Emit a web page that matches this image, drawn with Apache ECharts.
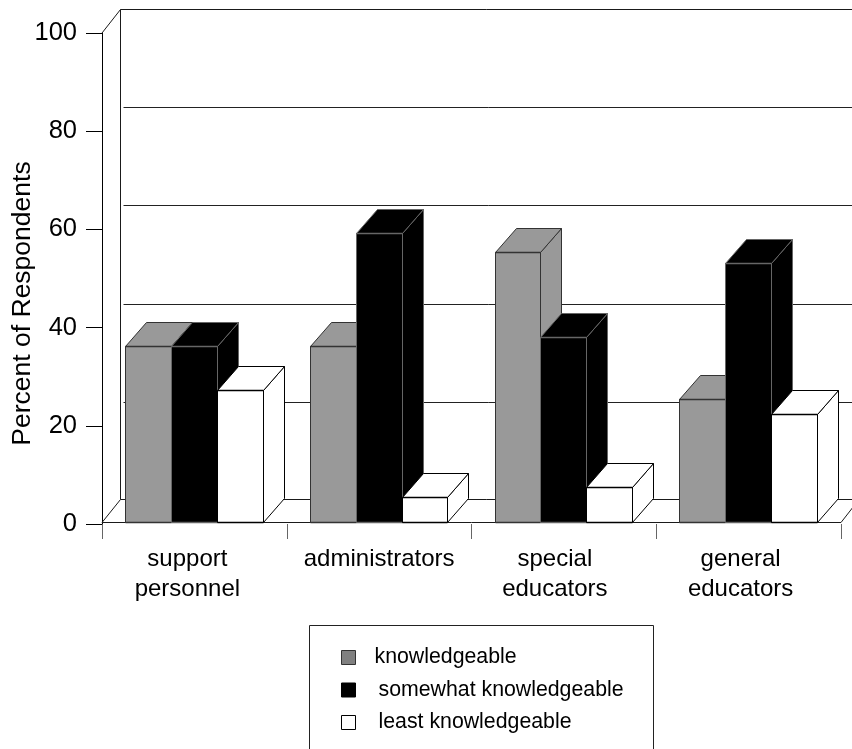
<!DOCTYPE html>
<html>
<head>
<meta charset="utf-8">
<style>html,body{margin:0;padding:0;background:#fff;overflow:hidden}#chart{width:852px;height:749px}</style>
<script src="https://cdn.jsdelivr.net/npm/echarts@6/dist/echarts.min.js"></script>
</head>
<body>
<div id="chart"></div>
<script>
// Survey data: share of respondents per knowledge level and staff group
const categories = ['support\npersonnel', 'administrators', 'special\neducators', 'general\neducators'];
const knowledgeable = [35.9, 35.9, 55, 25];
const somewhatKnowledgeable = [35.9, 58.8, 37.7, 52.8];
const leastKnowledgeable = [26.8, 5, 7.2, 22];
const wallValues = [20, 40, 60, 80];

const FONT = '"Liberation Sans", Arial, sans-serif';
const DEPTH_X = 21, DEPTH_Y = 24;   // oblique offset of the bar boxes
const WALL_X = 18, WALL_Y = 24;     // oblique offset of the back wall
const FLOOR_LIFT = 2;               // bars stand slightly above the axis zero tick
const LABEL_PAD = [14, 0, 18, 16];  // right padding pulls each category label left of its band centre
const snap = v => Math.round(v) + 0.5;

const line = (x1, y1, x2, y2, stroke, lineWidth) => ({
  type: 'line',
  shape: { x1, y1, x2, y2 },
  style: { stroke, lineWidth: lineWidth || 1, fill: null }
});
const poly = (points, fill, stroke) => ({
  type: 'polygon',
  shape: { points },
  style: { fill, stroke, lineWidth: 1 }
});

// Back wall, floor and wall gridlines of the oblique box
function renderFrame(params, api) {
  const cs = params.coordSys;
  const left = cs.x, right = cs.x + cs.width;
  const zero = api.coord([0, 0])[1];
  const base = snap(zero - FLOOR_LIFT);
  const top = api.coord([0, 100])[1];
  const wallX = snap(left + WALL_X);
  const wallTop = snap(top - WALL_Y);
  const floorBack = snap(base - WALL_Y);
  const edge = '#1a1a1a';
  const children = [
    line(wallX, wallTop, 900, wallTop, edge),
    line(wallX, wallTop, wallX, floorBack, edge),
    line(left, top, wallX, wallTop, edge),
    line(wallX, floorBack, 900, floorBack, edge),
    line(left, base, wallX, floorBack, edge),
    line(left, base, right, base, edge),
    line(right, base, right + WALL_X, floorBack, edge)
  ];
  wallValues.forEach(v => {
    const y = snap(api.coord([0, v])[1] - WALL_Y);
    children.push(line(wallX + 3, y, 900, y, '#222'));
  });
  return { type: 'group', children };
}

// One oblique box, sitting at its slot inside the category band
function barRenderer(slot, fill, stroke) {
  return function (params, api) {
    const cat = api.value(0);
    const val = api.value(1);
    const center = api.coord([cat, 0])[0] - 0.5;
    const w = api.size([1, 0])[0] * 0.248;
    const x0 = snap(center + (slot - 1.5) * w);
    const x1 = snap(center + (slot - 0.5) * w);
    const y0 = snap(api.coord([cat, 0])[1] - FLOOR_LIFT);
    const y1 = snap(api.coord([cat, val])[1] - FLOOR_LIFT);
    const dx = DEPTH_X, dy = DEPTH_Y;
    return {
      type: 'group',
      children: [
        poly([[x1, y0], [x1 + dx, y0 - dy], [x1 + dx, y1 - dy], [x1, y1]], fill, stroke),
        poly([[x0, y1], [x0 + dx, y1 - dy], [x1 + dx, y1 - dy], [x1, y1]], fill, stroke),
        poly([[x0, y0], [x1, y0], [x1, y1], [x0, y1]], fill, stroke),
        line(x0, y1, x1, y1, stroke, 1.5),
        line(x0, y0, x1, y0, stroke, 1.5)
      ]
    };
  };
}

const barSeries = (name, values, slot, fill, stroke) => ({
  name,
  type: 'custom',
  coordinateSystem: 'cartesian2d',
  encode: { x: 0, y: 1 },
  itemStyle: { color: fill },
  renderItem: barRenderer(slot, fill, stroke),
  data: values.map((v, i) => [i, v]),
  z: 3 + slot
});

const legendRow = (name, fill, border, pad) => ({
  name,
  icon: 'rect',
  itemStyle: { color: fill, borderColor: border, borderWidth: 1 },
  textStyle: { padding: [0, 0, 0, pad] }
});

const chart = echarts.init(document.getElementById('chart'), null, { renderer: 'canvas' });
chart.setOption({
  animation: false,
  backgroundColor: '#fff',
  grid: { left: 102, right: 11, top: 33, bottom: 225, containLabel: false, outerBoundsMode: 'none' },
  xAxis: {
    type: 'category',
    data: categories.map((value, i) => ({ value, textStyle: { padding: [0, LABEL_PAD[i], 0, 0] } })),
    offset: 2,
    axisLine: { show: false },
    axisTick: { show: true, length: 15, lineStyle: { color: '#666', width: 1 } },
    axisLabel: { color: '#000', fontFamily: FONT, fontSize: 24, lineHeight: 30, margin: 18, interval: 0 }
  },
  yAxis: {
    type: 'value',
    min: 0,
    max: 100,
    interval: 20,
    name: 'Percent of Respondents',
    nameLocation: 'middle',
    nameRotate: 90,
    nameGap: 66,
    nameMoveOverlap: false,
    nameTextStyle: { color: '#000', fontFamily: FONT, fontSize: 26.5, padding: [0, 50, 0, 0] },
    splitLine: { show: false },
    axisLine: { show: true, lineStyle: { color: '#000', width: 1 } },
    axisTick: { show: true, length: 16, lineStyle: { color: '#000', width: 1 } },
    axisLabel: { color: '#000', fontFamily: FONT, fontSize: 25.5, margin: 25, padding: [3, 0, 0, 0] }
  },
  legend: {
    orient: 'vertical',
    left: 336,
    top: 642,
    height: 130,
    itemWidth: 14,
    itemHeight: 14,
    itemGap: 11.5,
    selectedMode: false,
    textStyle: { color: '#000', fontFamily: FONT, fontSize: 21.3 },
    data: [
      legendRow('knowledgeable', '#808080', '#333', 14),
      legendRow('somewhat knowledgeable', '#000', '#000', 18),
      legendRow('least knowledgeable', '#fff', '#000', 18)
    ]
  },
  graphic: [{
    type: 'rect',
    shape: { x: 309.5, y: 625.5, width: 344, height: 160 },
    style: { fill: 'none', stroke: '#222', lineWidth: 1 },
    silent: true
  }],
  series: [
    {
      name: 'frame',
      type: 'custom',
      coordinateSystem: 'cartesian2d',
      renderItem: renderFrame,
      encode: { x: 0, y: 1 },
      data: [[0, 0]],
      z: 1,
      silent: true
    },
    barSeries('knowledgeable', knowledgeable, 0, '#999999', '#333333'),
    barSeries('somewhat knowledgeable', somewhatKnowledgeable, 1, '#000000', '#666666'),
    barSeries('least knowledgeable', leastKnowledgeable, 2, '#ffffff', '#000000')
  ]
});
</script>
</body>
</html>
